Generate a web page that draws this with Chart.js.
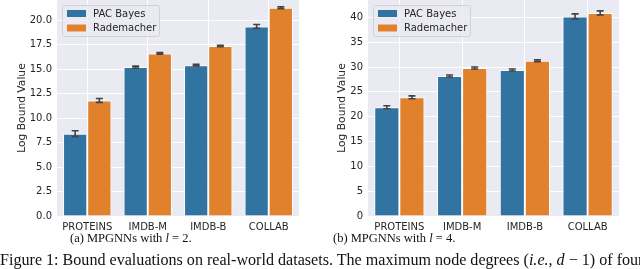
<!DOCTYPE html>
<html>
<head>
<meta charset="utf-8">
<script src="https://cdn.jsdelivr.net/npm/chart.js@4/dist/chart.umd.min.js"></script>
<style>
  html, body { margin: 0; padding: 0; background: #fff; }
  body { width: 640px; height: 269px; position: relative; overflow: hidden; }
  .box { position: absolute; top: 0; width: 320px; height: 234px; }
  .cap { position: absolute; font-family: "Liberation Serif", "DejaVu Serif", serif; color: #111; white-space: nowrap; }
</style>
</head>
<body>
<div class="box" style="left:0"><canvas id="cA" width="320" height="234"></canvas></div>
<div class="box" style="left:320px"><canvas id="cB" width="320" height="234"></canvas></div>
<div class="cap" style="left:70px; top:231px; font-size:12.5px;">(a) MPGNNs with <i>l</i> = 2.</div>
<div class="cap" style="left:333px; top:231px; font-size:12.5px;">(b) MPGNNs with <i>l</i> = 4.</div>
<div class="cap" style="left:0px; top:251px; font-size:16.1px;">Figure 1: Bound evaluations on real-world datasets. The maximum node degrees (<i>i.e.</i>, <i>d</i> − 1) of four real-world datasets</div>
<script>
const categories = ["PROTEINS", "IMDB-M", "IMDB-B", "COLLAB"];
const seriesNames = ["PAC Bayes", "Rademacher"];

// (a) l = 2
const pacA = [8.4, 15.2, 15.4, 19.35];
const radA = [11.8, 16.6, 17.35, 21.25];
const pacAErr = [0.3, 0.1, 0.08, 0.2];
const radAErr = [0.2, 0.08, 0.08, 0.1];
const yTicksA = [0, 2.5, 5, 7.5, 10, 12.5, 15, 17.5, 20];

// (b) l = 4
const pacB = [21.9, 28.2, 29.4, 40.2];
const radB = [23.9, 29.8, 31.25, 40.9];
const pacBErr = [0.3, 0.2, 0.2, 0.5];
const radBErr = [0.3, 0.2, 0.2, 0.4];
const yTicksB = [0, 5, 10, 15, 20, 25, 30, 35, 40];

const BLUE = "#3274A1", ORANGE = "#E1812C";
const TXT = "#262626";
const FONT = "'DejaVu Sans', sans-serif";

const bgPlugin = {
  id: "bg",
  beforeDraw(chart) {
    const {ctx, chartArea: a} = chart;
    ctx.save();
    ctx.fillStyle = "#EAEAF2";
    ctx.fillRect(a.left, a.top, a.right - a.left, a.bottom - a.top);
    ctx.restore();
  }
};

const errPlugin = {
  id: "err",
  afterDatasetsDraw(chart, args, opts) {
    const {ctx} = chart;
    const y = chart.scales.y;
    ctx.save();
    ctx.strokeStyle = "#444444";
    ctx.lineWidth = 1.6;
    chart.data.datasets.forEach((ds, di) => {
      const meta = chart.getDatasetMeta(di);
      const errs = opts.errors[di];
      meta.data.forEach((bar, i) => {
        const v = ds.data[i], e = errs[i];
        const x = bar.x;
        const y1 = y.getPixelForValue(v - e), y2 = y.getPixelForValue(v + e);
        ctx.beginPath();
        ctx.moveTo(x, y1); ctx.lineTo(x, y2);
        ctx.moveTo(x - 3.5, y1); ctx.lineTo(x + 3.5, y1);
        ctx.moveTo(x - 3.5, y2); ctx.lineTo(x + 3.5, y2);
        ctx.stroke();
      });
    });
    ctx.restore();
  }
};

const legendPlugin = {
  id: "leg",
  afterDraw(chart) {
    const {ctx, chartArea: a} = chart;
    const bx = a.left + 5, by = 5, bw = 97, bh = 31;
    ctx.save();
    ctx.fillStyle = "rgba(234,234,242,0.8)";
    ctx.strokeStyle = "#d2d2d6";
    ctx.lineWidth = 1;
    ctx.beginPath();
    if (ctx.roundRect) ctx.roundRect(bx + 0.5, by + 0.5, bw, bh, 2); else ctx.rect(bx + 0.5, by + 0.5, bw, bh);
    ctx.fill(); ctx.stroke();
    const cols = [BLUE, ORANGE];
    ctx.font = "10px " + FONT;
    ctx.textBaseline = "middle";
    ctx.textAlign = "left";
    seriesNames.forEach((n, i) => {
      const cy = by + 8.5 + i * 14.5;
      ctx.fillStyle = cols[i];
      ctx.fillRect(bx + 5, cy - 3.5, 19, 7);
      ctx.fillStyle = TXT;
      ctx.fillText(n, bx + 31, cy + 0.5);
    });
    ctx.restore();
  }
};

function makeChart(id, pac, rad, pacErr, radErr, ticks, ymax, axisW, decimals) {
  return new Chart(document.getElementById(id), {
    type: "bar",
    data: {
      labels: categories,
      datasets: [
        { label: seriesNames[0], data: pac, backgroundColor: BLUE, borderColor: "rgba(255,255,255,0.85)", borderWidth: 1, borderSkipped: "bottom" },
        { label: seriesNames[1], data: rad, backgroundColor: ORANGE, borderColor: "rgba(255,255,255,0.85)", borderWidth: 1, borderSkipped: "bottom" }
      ]
    },
    options: {
      responsive: false,
      animation: false,
      devicePixelRatio: 1,
      layout: { padding: { top: 0, right: 21, left: 0, bottom: 0 } },
      datasets: { bar: { categoryPercentage: 0.8, barPercentage: 1.0 } },
      plugins: {
        legend: { display: false },
        tooltip: { enabled: false },
        err: { errors: [pacErr, radErr] }
      },
      scales: {
        x: {
          grid: { display: true, color: "#ffffff", lineWidth: 1, offset: false, drawTicks: false },
          border: { display: false },
          ticks: { color: TXT, font: { family: FONT, size: 10 }, padding: 5, maxRotation: 0 },
          afterFit(s) { s.height = 18; s.paddingLeft = 0; s.paddingRight = 0; }
        },
        y: {
          min: 0, max: ymax,
          grid: { color: "#ffffff", lineWidth: 1, drawTicks: false },
          border: { display: false },
          ticks: {
            color: TXT, font: { family: FONT, size: 10 }, padding: 5,
            callback: v => v.toFixed(decimals)
          },
          afterBuildTicks(s) { s.ticks = ticks.map(v => ({ value: v })); },
          title: { display: true, text: "Log Bound Value", color: TXT, font: { family: FONT, size: 10.7 }, padding: { top: 16, bottom: 0 } },
          afterFit(s) { s.width = axisW; s.paddingTop = 0; s.paddingBottom = 0; }
        }
      }
    },
    plugins: [bgPlugin, errPlugin, legendPlugin]
  });
}

makeChart("cA", pacA, radA, pacAErr, radAErr, yTicksA, 22.05, 57, 1);
makeChart("cB", pacB, radB, pacBErr, radBErr, yTicksB, 43.5, 48, 0);
</script>
</body>
</html>
